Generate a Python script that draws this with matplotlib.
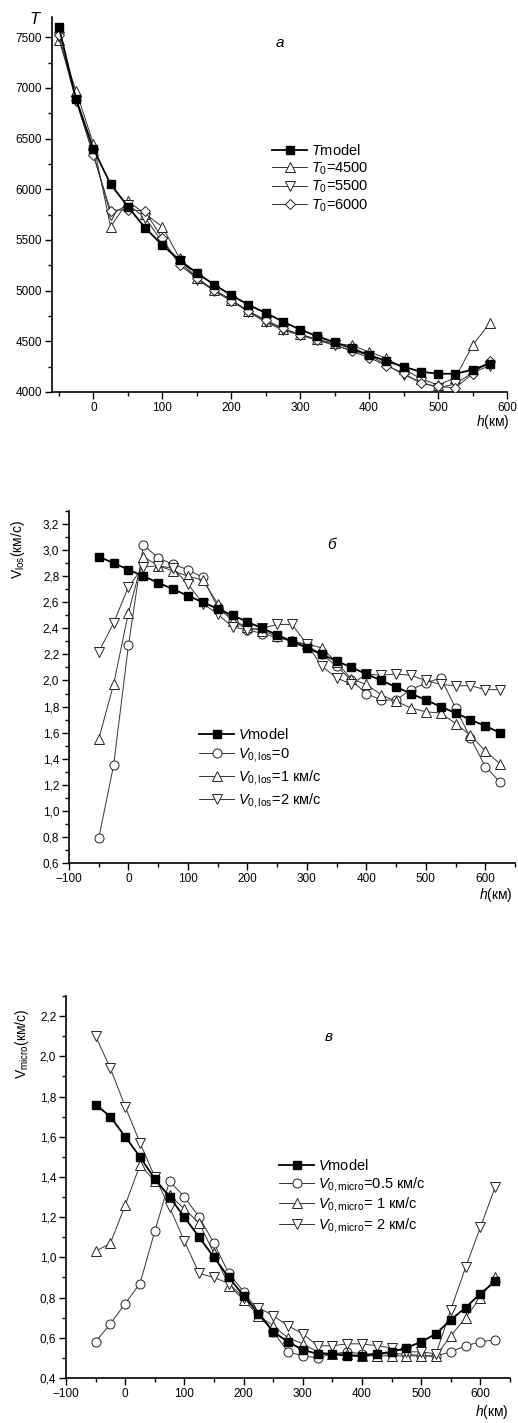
import matplotlib
matplotlib.use("Agg")
import matplotlib.pyplot as plt
from matplotlib.ticker import MultipleLocator, FuncFormatter

plt.rcParams['font.family'] = ['Liberation Sans', 'DejaVu Sans']
plt.rcParams['mathtext.fontset'] = 'custom'
plt.rcParams['mathtext.rm'] = 'Liberation Sans'
plt.rcParams['mathtext.it'] = 'Liberation Sans:italic'
plt.rcParams['mathtext.bf'] = 'Liberation Sans:bold'

# ---------------- data ----------------
h_a = [-50, -25, 0, 25, 50, 75, 100, 125, 150, 175, 200, 225, 250, 275, 300,
       325, 350, 375, 400, 425, 450, 475, 500, 525, 550, 575]
T_model = [7600, 6890, 6400, 6050, 5830, 5620, 5450, 5300, 5175, 5060, 4955, 4860, 4780,
           4695, 4615, 4550, 4490, 4430, 4365, 4305, 4250, 4200, 4180, 4180, 4220, 4280]
T_4500 = [7470, 6970, 6450, 5630, 5880, 5760, 5630, 5320, 5120, 5010, 4910, 4800, 4700,
          4620, 4570, 4520, 4480, 4460, 4395, 4335, 4230, 4130, 4070, 4140, 4460, 4680]
T_5500 = [7500, 6870, 6350, 5750, 5850, 5720, 5480, 5290, 5110, 5000, 4900, 4790, 4690,
          4610, 4560, 4510, 4460, 4410, 4360, 4270, 4170, 4100, 4040, 4080, 4190, 4260]
T_6000 = [7520, 6880, 6335, 5790, 5800, 5785, 5515, 5250, 5128, 5003, 4897, 4798, 4710,
          4630, 4565, 4515, 4470, 4400, 4340, 4260, 4185, 4085, 4055, 4040, 4180, 4310]

h_b = [-50, -25, 0, 25, 50, 75, 100, 125, 150, 175, 200, 225, 250, 275, 300,
       325, 350, 375, 400, 425, 450, 475, 500, 525, 550, 575, 600, 625]
V_model = [2.95, 2.90, 2.85, 2.80, 2.75, 2.70, 2.65, 2.60, 2.55, 2.50, 2.45, 2.40, 2.35, 2.30,
           2.25, 2.20, 2.15, 2.10, 2.05, 2.00, 1.95, 1.90, 1.85, 1.80, 1.75, 1.70, 1.65, 1.60]
V_los0 = [0.79, 1.35, 2.27, 3.04, 2.94, 2.89, 2.85, 2.79, 2.56, 2.46, 2.39, 2.36, 2.33, 2.30,
          2.27, 2.20, 2.11, 2.00, 1.90, 1.85, 1.85, 1.93, 1.98, 2.02, 1.79, 1.56, 1.34, 1.22]
V_los1 = [1.55, 1.97, 2.52, 2.95, 2.88, 2.84, 2.80, 2.77, 2.59, 2.46, 2.41, 2.38, 2.34, 2.30,
          2.28, 2.25, 2.14, 2.01, 1.97, 1.89, 1.84, 1.79, 1.76, 1.75, 1.67, 1.58, 1.46, 1.36]
V_los2 = [2.22, 2.44, 2.72, 2.87, 2.88, 2.86, 2.74, 2.59, 2.51, 2.41, 2.39, 2.40, 2.43, 2.43,
          2.28, 2.11, 2.02, 1.97, 2.05, 2.04, 2.05, 2.04, 2.00, 1.97, 1.96, 1.96, 1.93, 1.93]

h_c = h_b
Vm_model = [1.76, 1.70, 1.60, 1.50, 1.39, 1.30, 1.20, 1.10, 1.00, 0.90, 0.81, 0.72, 0.63, 0.58,
            0.54, 0.52, 0.52, 0.51, 0.51, 0.52, 0.53, 0.55, 0.58, 0.62, 0.69, 0.75, 0.82, 0.88]
Vm_05 = [0.58, 0.67, 0.77, 0.87, 1.13, 1.38, 1.30, 1.20, 1.07, 0.92, 0.83, 0.73, 0.63, 0.53,
         0.51, 0.50, 0.52, 0.53, 0.52, 0.52, 0.52, 0.52, 0.51, 0.51, 0.53, 0.56, 0.58, 0.59]
Vm_1 = [1.03, 1.07, 1.26, 1.46, 1.38, 1.31, 1.24, 1.17, 1.02, 0.86, 0.79, 0.71, 0.66, 0.60,
        0.57, 0.53, 0.52, 0.52, 0.51, 0.51, 0.51, 0.51, 0.51, 0.51, 0.61, 0.70, 0.80, 0.90]
Vm_2 = [2.10, 1.94, 1.75, 1.57, 1.40, 1.25, 1.08, 0.92, 0.90, 0.87, 0.80, 0.75, 0.71, 0.66,
        0.62, 0.56, 0.56, 0.57, 0.57, 0.56, 0.55, 0.53, 0.53, 0.52, 0.74, 0.95, 1.15, 1.35]

labels_a = [r"$T$model", r"$T_0$=4500", r"$T_0$=5500", r"$T_0$=6000"]
labels_b = [r"$V$model", r"$V_{0,\mathrm{los}}$=0", r"$V_{0,\mathrm{los}}$=1 км/с",
            r"$V_{0,\mathrm{los}}$=2 км/с"]
labels_c = [r"$V$model", r"$V_{0,\mathrm{micro}}$=0.5 км/с", r"$V_{0,\mathrm{micro}}$= 1 км/с",
            r"$V_{0,\mathrm{micro}}$= 2 км/с"]

# ---------------- layout ----------------
W, H = 518, 1423
fig = plt.figure(figsize=(W / 100, H / 100), dpi=100)


def add_ax(l, r, t, b):
    return fig.add_axes([l / W, 1 - b / H, (r - l) / W, (b - t) / H])


def fx(x, y):
    return x / W, 1 - y / H


comma = FuncFormatter(lambda v, p: f"{v:.1f}".replace('.', ','))


def style(ax):
    for s in ['top', 'right']:
        ax.spines[s].set_visible(False)
    for s in ['left', 'bottom']:
        ax.spines[s].set_linewidth(1.2)
    ax.tick_params(which='major', direction='out', length=5, width=1.0, labelsize=8.5, pad=2)
    ax.tick_params(which='minor', direction='out', length=3, width=1.0)


def draw(ax, x, series, markers, labels):
    for i, (y, m, lab) in enumerate(zip(series, markers, labels)):
        if i == 0:
            ax.plot(x, y, '-', color='black', lw=1.3, marker=m, ms=5.5,
                    mfc='black', mec='black', label=lab, zorder=5)
        else:
            ax.plot(x, y, '-', color='#333333', lw=0.7, marker=m, ms=6.5,
                    mfc='white', mec='#222222', mew=0.7, label=lab, zorder=3)


leg_kw = dict(frameon=False, fontsize=10.5, handlelength=2.4, handletextpad=0.3,
              borderpad=0, borderaxespad=0, bbox_transform=fig.transFigure)

# ---- panel a ----
axa = add_ax(52, 507, 17, 392)
style(axa)
draw(axa, h_a, [T_model, T_4500, T_5500, T_6000], ['s', '^', 'v', 'D'], labels_a)
axa.lines[3].set_markersize(5.5)
axa.set_xlim(-60, 600)
axa.set_ylim(4000, 7700)
axa.xaxis.set_major_locator(MultipleLocator(100))
axa.xaxis.set_minor_locator(MultipleLocator(50))
axa.yaxis.set_major_locator(MultipleLocator(500))
axa.yaxis.set_minor_locator(MultipleLocator(250))
axa.legend(loc='upper left', bbox_to_anchor=fx(272, 143), labelspacing=0.15, **leg_kw)
fig.text(*fx(36, 24), r"$T$", fontsize=12, ha='center', va='baseline')
fig.text(*fx(280, 47), "а", fontsize=11, style='italic', ha='center', va='baseline')
fig.text(*fx(510, 422), r"$h$(км)", fontsize=10, ha='right', va='center')

# ---- panel b ----
axb = add_ax(69, 515, 511, 863)
style(axb)
draw(axb, h_b, [V_model, V_los0, V_los1, V_los2], ['s', 'o', '^', 'v'], labels_b)
axb.set_xlim(-100, 650)
axb.set_ylim(0.6, 3.3)
axb.xaxis.set_major_locator(MultipleLocator(100))
axb.xaxis.set_minor_locator(MultipleLocator(50))
axb.yaxis.set_major_locator(MultipleLocator(0.2))
axb.yaxis.set_minor_locator(MultipleLocator(0.1))
axb.yaxis.set_major_formatter(comma)
axb.legend(loc='upper left', bbox_to_anchor=fx(199, 727), labelspacing=0.28, **leg_kw)
fig.text(*fx(332, 549), "б", fontsize=11, style='italic', ha='center', va='baseline')
fig.text(*fx(513, 895), r"$h$(км)", fontsize=10, ha='right', va='center')
fig.text(*fx(18, 549), r"$\mathrm{V}_{\mathrm{los}}$(км/с)", fontsize=10, rotation=90,
         ha='center', va='center')

# ---- panel c ----
axc = add_ax(66, 510, 996, 1378)
style(axc)
draw(axc, h_c, [Vm_model, Vm_05, Vm_1, Vm_2], ['s', 'o', '^', 'v'], labels_c)
axc.set_xlim(-100, 650)
axc.set_ylim(0.4, 2.3)
axc.xaxis.set_major_locator(MultipleLocator(100))
axc.xaxis.set_minor_locator(MultipleLocator(50))
axc.yaxis.set_major_locator(MultipleLocator(0.2))
axc.yaxis.set_minor_locator(MultipleLocator(0.1))
axc.yaxis.set_major_formatter(comma)
axc.legend(loc='upper left', bbox_to_anchor=fx(279, 1158), labelspacing=0.12, **leg_kw)
fig.text(*fx(329, 1041), "в", fontsize=11, style='italic', ha='center', va='baseline')
fig.text(*fx(509, 1412), r"$h$(км)", fontsize=10, ha='right', va='center')
fig.text(*fx(22, 1044), r"$\mathrm{V}_{\mathrm{micro}}$(км/с)", fontsize=10, rotation=90,
         ha='center', va='center')

fig.savefig("out.png", dpi=100)
